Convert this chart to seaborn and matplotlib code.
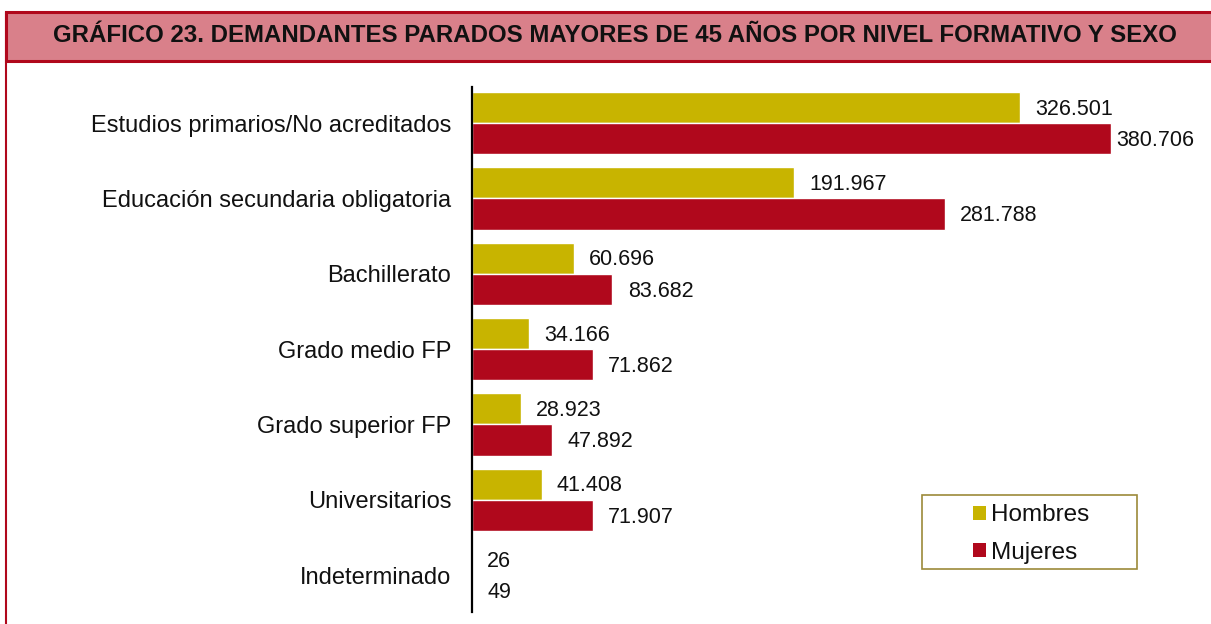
import matplotlib
matplotlib.use("Agg")
import matplotlib.pyplot as plt
from matplotlib.patches import Rectangle
import pandas as pd
import seaborn as sns

categories = [
    "Estudios primarios/No acreditados",
    "Educación secundaria obligatoria",
    "Bachillerato",
    "Grado medio FP",
    "Grado superior FP",
    "Universitarios",
    "Indeterminado",
]
hombres = [326501, 191967, 60696, 34166, 28923, 41408, 26]
mujeres = [380706, 281788, 83682, 71862, 47892, 71907, 49]
series = ["Hombres", "Mujeres"]
colors = ["#C8B400", "#B0081C"]
title = "GRÁFICO 23. DEMANDANTES PARADOS MAYORES DE 45 AÑOS POR NIVEL FORMATIVO Y SEXO"

df = pd.DataFrame({
    "nivel": categories * 2,
    "valor": hombres + mujeres,
    "sexo": ["Hombres"] * len(categories) + ["Mujeres"] * len(categories),
})

sns.set_style("white")
plt.rcParams["font.family"] = ["Liberation Sans", "DejaVu Sans"]

W, H = 1211, 624
fig = plt.figure(figsize=(W / 100, H / 100), dpi=100)
ax = fig.add_axes([472 / W, 1 - 612 / H, (1205 - 472) / W, (612 - 87) / H])

sns.barplot(data=df, y="nivel", x="valor", hue="sexo", order=categories,
            hue_order=series, palette=colors, orient="h", width=0.83,
            saturation=1, ax=ax, legend=False)

labels = []
for cont, vals in zip(ax.containers, [hombres, mujeres]):
    labels += ax.bar_label(cont, labels=[f"{v:,}".replace(",", ".") for v in vals],
                           padding=11, fontsize=15.5, color="#111111")

ax.set_xlim(0, 733 / (639 / 380706))
ax.set_ylim(6.49, -0.48)
ax.set_xlabel("")
ax.set_ylabel("")
ax.set_xticks([])
ax.tick_params(axis="y", length=0, pad=15, labelsize=17, labelcolor="#111111")
for s in ["top", "right", "bottom"]:
    ax.spines[s].set_visible(False)
ax.spines["left"].set_color("black")
ax.spines["left"].set_linewidth(1.6)

# like excel: labels that would run past the plot area get pushed back inside
fig.canvas.draw()
r = fig.canvas.get_renderer()
for t in labels:
    x, y = t.xyann
    over = t.get_window_extent(r).x1 - 1194
    if over > 0:
        x -= over * 72 / 100
    t.xyann = (x, y - 1.2)

# legend: box drawn by hand, entries without frame
fig.patches.append(Rectangle((922 / W, 1 - 569 / H), 215 / W, 74 / H, transform=fig.transFigure,
                             facecolor="white", edgecolor="#9C8A3A", linewidth=1.2))
handles = [Rectangle((0, 0), 1, 1, facecolor=c, edgecolor="none") for c in colors]
leg = fig.legend(handles, series, loc="center left",
                 bbox_to_anchor=(973 / W, 1 - 534 / H),
                 frameon=False, fontsize=17.5,
                 handlelength=0.55, handleheight=0.55, handletextpad=0.2,
                 labelspacing=0.62, borderpad=0, borderaxespad=0)
for t in leg.get_texts():
    t.set_color("#111111")

# header band and frame
fig.patches.append(Rectangle((6 / W, 1 - 61 / H), 1.1, 49 / H, transform=fig.transFigure,
                             facecolor="#D9808A", edgecolor="#B0081C", linewidth=2.2,
                             clip_on=False))
fig.add_artist(plt.Line2D([6 / W, 6 / W], [0, 1 - 12 / H], color="#B0081C", linewidth=1.5))
fig.text(615 / W, 1 - 36 / H, title, ha="center", va="center", fontsize=17.3,
         fontweight="bold", color="#111111")

fig.savefig("out.png", dpi=100)
